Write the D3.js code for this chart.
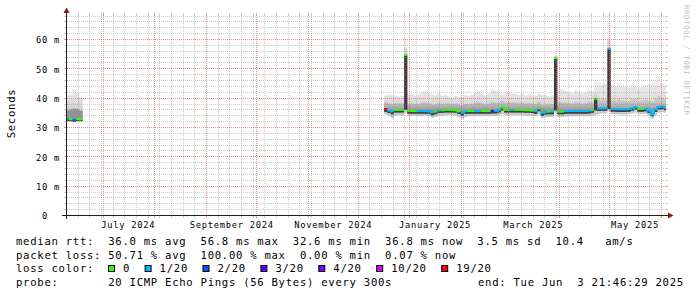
<!DOCTYPE html>
<html><head><meta charset="utf-8">
<script src="https://cdn.jsdelivr.net/npm/d3@7/dist/d3.min.js"></script>
<style>
html,body{margin:0;padding:0;background:#ffffff;overflow:hidden}
svg{display:block}
text{font-family:"DejaVu Sans Mono",monospace}
</style></head><body>
<svg id="chart" width="697" height="297" xmlns="http://www.w3.org/2000/svg"></svg>
<script>
// ---------------- data ----------------
const graphEnd = "2025-06-03T21:46:29Z";
const graphSpanDays = 360;
const yTopValue = 68.18;          // ms at the top edge of the plot
const sampleStepDays = 2;

const yTickValues = [0, 10, 20, 30, 40, 50, 60];
const xLabelMonths = ["2024-07-01", "2024-09-01", "2024-11-01", "2025-01-01", "2025-03-01", "2025-05-01"];

const lossLabels = ["0", "1/20", "2/20", "3/20", "4/20", "10/20", "19/20"];
const lossColors = ["#26ff00", "#00b8ff", "#0059ff", "#5e00ff", "#7e00ff", "#dd00ff", "#ff0000"];

// segment 1 (June 2024)
const seg1Start = "2024-06-08T21:46:29Z";
const seg1Median = [33.0, 32.8, 32.6, 32.9, 32.8];
const seg1Loss   = [1, 0, 2, 0, 0];
const seg1Min    = [32.0, 31.9, 31.8, 32.0, 32.0];
const seg1Q1     = [32.3, 32.2, 32.0, 32.3, 32.2];
const seg1Q3     = [35.8, 36.2, 36.6, 36.4, 35.8];
const seg1Max    = [41.0, 41.2, 43.0, 41.8, 40.4];

// segment 2 (Dec 2024 - Jun 2025)
const seg2Start = "2024-12-16T17:00:00Z";
const seg2Median = [
  36.3, 35.8, 35.5, 36.0, 36.0, 36.0, 54.7, 35.6, 35.6, 35.6,
  35.6, 35.6, 35.6, 35.5, 35.2, 35.4, 35.8, 35.9, 36.0, 36.0,
  36.0, 35.9, 35.5, 35.0, 35.5, 35.6, 35.6, 35.6, 35.6, 35.6,
  35.6, 35.6, 35.7, 35.7, 36.0, 36.8, 36.0, 36.0, 36.0, 36.0,
  36.0, 36.0, 35.9, 35.9, 35.8, 35.6, 36.5, 35.0, 35.3, 35.4,
  35.4, 53.6, 35.4, 35.4, 35.6, 35.6, 35.6, 35.6, 35.6, 35.6,
  35.6, 35.7, 35.9, 39.8, 36.5, 36.6, 36.6, 56.8, 36.3, 36.3,
  36.2, 36.2, 36.2, 36.3, 36.6, 37.0, 36.3, 36.3, 36.4, 35.8,
  34.5, 36.2, 37.0, 37.1, 36.8];
const seg2Loss = [
  6, 1, 1, 0, 0, 0, 0, 0, 0, 0,
  1, 1, 1, 1, 1, 0, 1, 0, 0, 0,
  0, 0, 0, 1, 1, 0, 0, 1, 1, 0,
  0, 0, 3, 1, 1, 0, 0, 0, 1, 0,
  0, 0, 0, 0, 0, 1, 0, 1, 1, 0,
  1, 0, 0, 0, 1, 1, 1, 1, 1, 1,
  1, 1, 0, 0, 1, 1, 1, 1, 1, 1,
  1, 1, 1, 1, 1, 1, 0, 0, 1, 1,
  1, 1, 1, 1, 1];
const seg2Min = [
  34.4, 34.0, 33.2, 34.0, 34.2, 34.0, 35.0, 33.8, 33.9, 34.0,
  33.8, 33.9, 34.0, 33.8, 33.3, 33.6, 34.0, 34.0, 34.1, 34.2,
  34.0, 34.0, 33.6, 33.0, 33.6, 33.8, 33.8, 33.9, 33.8, 33.8,
  33.9, 33.8, 33.9, 33.9, 34.1, 34.6, 34.2, 34.1, 34.2, 34.2,
  34.2, 34.1, 34.0, 34.0, 34.0, 33.8, 34.4, 33.2, 33.5, 33.6,
  33.6, 35.0, 33.6, 33.6, 33.8, 33.8, 33.8, 33.8, 33.8, 33.8,
  33.8, 33.8, 34.0, 34.2, 34.6, 34.8, 34.8, 35.5, 34.5, 34.5,
  34.4, 34.4, 34.4, 34.5, 34.8, 35.0, 34.5, 34.5, 34.6, 34.0,
  33.0, 34.2, 35.0, 35.2, 35.0];
const seg2Q1 = [
  35.4, 34.9, 34.5, 35.1, 35.1, 35.1, 36.0, 34.7, 34.7, 34.7,
  34.7, 34.7, 34.7, 34.6, 34.2, 34.5, 34.9, 35.0, 35.1, 35.1,
  35.1, 35.0, 34.6, 34.0, 34.6, 34.7, 34.7, 34.7, 34.7, 34.7,
  34.7, 34.7, 34.8, 34.8, 35.1, 35.8, 35.1, 35.1, 35.1, 35.1,
  35.1, 35.1, 35.0, 35.0, 34.9, 34.7, 35.5, 34.0, 34.4, 34.5,
  34.5, 35.8, 34.5, 34.5, 34.7, 34.7, 34.7, 34.7, 34.7, 34.7,
  34.7, 34.8, 35.0, 35.8, 35.6, 35.7, 35.7, 36.3, 35.4, 35.4,
  35.3, 35.3, 35.3, 35.4, 35.7, 36.1, 35.4, 35.4, 35.5, 34.9,
  33.8, 35.3, 36.1, 36.2, 35.9];
const seg2Q3 = [
  38.6, 38.2, 37.9, 38.3, 38.2, 38.3, 57.0, 38.0, 38.2, 38.0,
  38.1, 38.5, 38.6, 38.3, 37.8, 37.8, 38.3, 38.1, 38.2, 38.2,
  38.0, 38.2, 37.8, 37.6, 38.0, 37.9, 38.1, 38.4, 38.6, 38.2,
  37.9, 38.2, 38.9, 38.6, 38.6, 39.0, 38.6, 38.8, 38.5, 38.5,
  38.3, 38.6, 38.2, 38.4, 38.2, 37.9, 38.7, 37.6, 37.8, 37.8,
  38.0, 54.3, 38.6, 38.4, 38.5, 38.3, 38.2, 38.6, 38.4, 38.1,
  38.3, 38.7, 38.6, 41.5, 40.0, 39.6, 39.6, 60.0, 39.4, 39.1,
  39.6, 39.2, 39.0, 39.0, 39.6, 39.8, 39.0, 39.2, 39.5, 39.2,
  38.9, 40.0, 40.8, 40.2, 39.8];
const seg2Max = [
  41.0, 41.2, 41.0, 40.8, 40.6, 40.8, 60.0, 41.2, 41.5, 41.0,
  41.4, 42.2, 42.4, 41.8, 41.2, 41.0, 41.6, 40.8, 41.0, 40.6,
  40.2, 40.8, 40.4, 40.6, 41.0, 40.8, 41.2, 41.8, 42.2, 41.4,
  41.0, 41.6, 43.2, 42.6, 42.0, 41.4, 41.8, 42.2, 41.6, 41.6,
  41.2, 41.8, 41.0, 41.4, 41.0, 40.8, 41.6, 41.2, 41.0, 40.6,
  41.0, 55.0, 43.4, 43.0, 42.4, 42.0, 41.8, 42.6, 42.2, 41.6,
  42.0, 42.8, 42.4, 46.2, 45.4, 44.6, 44.8, 66.0, 44.6, 44.0,
  45.2, 44.4, 44.0, 43.6, 44.8, 44.2, 43.4, 43.8, 44.4, 45.0,
  45.6, 46.0, 47.3, 45.2, 44.6];

// legend texts
const legendMedian = "median rtt:  36.0 ms avg  56.8 ms max  32.6 ms min  36.8 ms now  3.5 ms sd  10.4   am/s";
const legendLoss   = "packet loss: 50.71 % avg  100.00 % max  0.00 % min  0.07 % now";
const legendLossTitle = "loss color:";
const legendProbe  = "probe:       20 ICMP Echo Pings (56 Bytes) every 300s";
const legendEnd    = "end: Tue Jun  3 21:46:29 2025";
const yAxisTitle   = "Seconds";
const watermark    = "RRDTOOL / TOBI OETIKER";

// ---------------- drawing ----------------
const svg = d3.select("#chart");
const X0 = 66, X1 = 666, Y0 = 215, Y1 = 15;
const DAY = 864e5;
const endT = new Date(graphEnd);
const startT = new Date(endT.getTime() - graphSpanDays * DAY);

const x = d3.scaleUtc().domain([startT, endT]).range([X0, X1]);
const y = d3.scaleLinear().domain([0, yTopValue]).range([Y0 + 0.5, Y1 + 0.5]);

svg.append("rect").attr("width", 697).attr("height", 297).attr("fill", "#ffffff");
const defs = svg.append("defs");
defs.append("clipPath").attr("id", "plotClip")
  .append("rect").attr("x", X0 + 1).attr("y", Y1).attr("width", X1 - X0 - 1).attr("height", Y0 - Y1);

function vGradient(id, v1, v2, stops) {
  const g = defs.append("linearGradient").attr("id", id).attr("gradientUnits", "userSpaceOnUse")
    .attr("x1", 0).attr("x2", 0).attr("y1", y(v1)).attr("y2", y(v2));
  stops.forEach(([o, c]) => g.append("stop").attr("offset", o).attr("stop-color", c));
}
vGradient("smokeOuter", 46, 34, [[0, "#eeeeee"], [0.45, "#e2e2e2"], [0.8, "#d2d2d2"], [1, "#c8c8c8"]]);
vGradient("smokeInner", 40, 35.5, [[0, "#d4d4d4"], [0.6, "#b2b2b2"], [1, "#929292"]]);

function buildSegment(start, med, loss, mn, q1, q3, mx) {
  const t0 = Date.parse(start);
  return med.map((m, i) => ({
    t: new Date(t0 + i * sampleStepDays * DAY),
    t1: new Date(t0 + (i + 1) * sampleStepDays * DAY),
    med: m, loss: loss[i], min: mn[i], q1: q1[i], q3: q3[i], max: mx[i]
  }));
}
const segments = [
  buildSegment(seg1Start, seg1Median, seg1Loss, seg1Min, seg1Q1, seg1Q3, seg1Max),
  buildSegment(seg2Start, seg2Median, seg2Loss, seg2Min, seg2Q1, seg2Q3, seg2Max)
];

const dataG = svg.append("g").attr("clip-path", "url(#plotClip)");
const bands = [["min", "max", "url(#smokeOuter)"], ["q1", "q3", "url(#smokeInner)"], ["q1", "med", "#3c3c3c"]];
segments.forEach(s => {
  const last = s[s.length - 1];
  const pts = s.concat([Object.assign({}, last, { t: last.t1 })]);
  bands.forEach(([lo, hi, c]) => {
    const area = d3.area().curve(d3.curveStepAfter)
      .x(d => x(d.t)).y0(d => y(d[lo])).y1(d => y(d[hi]));
    dataG.append("path").attr("d", area(pts)).attr("fill", c);
  });
});

// median line coloured by loss
const medG = svg.append("g").attr("clip-path", "url(#plotClip)");
segments.forEach(s => {
  s.forEach((d, i) => {
    const yy = y(d.med);
    const col = lossColors[d.loss];
    medG.append("line").attr("x1", x(d.t)).attr("x2", x(d.t1)).attr("y1", yy).attr("y2", yy)
      .attr("stroke", col).attr("stroke-width", 2);
    if (i > 0 && s[i - 1].loss === d.loss && Math.abs(y(s[i - 1].med) - yy) <= 5) {
      medG.append("line").attr("x1", x(d.t)).attr("x2", x(d.t))
        .attr("y1", y(s[i - 1].med)).attr("y2", yy)
        .attr("stroke", col).attr("stroke-width", 2).attr("stroke-linecap", "square");
    }
  });
});

// grid (semi-transparent, drawn over the graph like rrdtool)
const gridG = svg.append("g");
const minorCol = "rgba(143,143,143,0.45)", majorCol = "rgba(222,79,79,0.6)";
const px = t => Math.round(x(t)) + 0.5;
function vline(xx, col) {
  gridG.append("line").attr("x1", xx).attr("x2", xx).attr("y1", Y1).attr("y2", Y0)
    .attr("stroke", col).attr("stroke-dasharray", "1,1");
  gridG.append("line").attr("x1", xx).attr("x2", xx).attr("y1", Y0 + 1).attr("y2", Y0 + 3).attr("stroke", col);
  gridG.append("line").attr("x1", xx).attr("x2", xx).attr("y1", Y1 - 2).attr("y2", Y1).attr("stroke", col);
}
function hline(yy, col) {
  gridG.append("line").attr("x1", X0 + 1).attr("x2", X1).attr("y1", yy).attr("y2", yy)
    .attr("stroke", col).attr("stroke-dasharray", "1,1");
  gridG.append("line").attr("x1", X0 - 2).attr("x2", X0).attr("y1", yy).attr("y2", yy).attr("stroke", col);
  gridG.append("line").attr("x1", X1).attr("x2", X1 + 2).attr("y1", yy).attr("y2", yy).attr("stroke", col);
}
const months = d3.utcMonth.range(startT, endT);
const weeks = d3.utcSunday.range(startT, endT);
weeks.forEach(t => {
  if (months.some(m => Math.abs(px(m) - px(t)) < 2)) return;
  vline(px(t), minorCol);
});
months.forEach(t => vline(px(t), majorCol));
d3.range(2, yTopValue, 2).forEach(v => {
  const yy = Math.round(y(v) - 0.5) + 0.5;
  hline(yy, v % 10 === 0 ? majorCol : minorCol);
});

// axes lines and arrows
const axisCol = "#1f1f1f", arrowCol = "#801f1f";
svg.append("line").attr("x1", X0 - 4).attr("x2", X1 + 4).attr("y1", Y0 + 0.5).attr("y2", Y0 + 0.5).attr("stroke", axisCol);
svg.append("line").attr("x1", X0 + 0.5).attr("x2", X0 + 0.5).attr("y1", Y0 + 4).attr("y2", Y1 - 4).attr("stroke", axisCol);
svg.append("path").attr("d", `M${X1 + 2},${Y0 - 2.5}L${X1 + 7.5},${Y0 + 0.5}L${X1 + 2},${Y0 + 3.5}Z`).attr("fill", arrowCol);
svg.append("path").attr("d", `M${X0 - 2.5},${Y1 - 2}L${X0 + 0.5},${Y1 - 7.5}L${X0 + 3.5},${Y1 - 2}Z`).attr("fill", arrowCol);

// tick labels via d3 axes
const tickFont = 8.8, tickSpacing = 0.7;
const yAxisG = svg.append("g").attr("transform", `translate(${X0},0)`)
  .call(d3.axisLeft(y).tickValues(yTickValues).tickSize(0).tickPadding(6)
    .tickFormat(v => v === 0 ? "0" : `${v} m`));
yAxisG.select(".domain").remove();
yAxisG.selectAll("text").attr("font-size", tickFont).attr("letter-spacing", tickSpacing)
  .attr("fill", "#000").attr("font-family", "DejaVu Sans Mono")
  .attr("dx", v => v === 0 ? -12 : 0).attr("dy", "0.36em");

const xAxisG = svg.append("g").attr("transform", `translate(0,${Y0 + 0.5})`)
  .call(d3.axisBottom(x).tickValues(xLabelMonths.map(m => new Date(Date.parse(m) + 15 * DAY)))
    .tickFormat(d3.utcFormat("%B %Y")).tickSize(0).tickPadding(6));
xAxisG.select(".domain").remove();
xAxisG.selectAll("text").attr("font-size", tickFont).attr("letter-spacing", tickSpacing)
  .attr("fill", "#000").attr("font-family", "DejaVu Sans Mono");

// y title
const legFont = 10.6, legSpacing = 0.72;
svg.append("text").attr("transform", "translate(15,113.5) rotate(-90)")
  .attr("text-anchor", "middle").attr("font-size", legFont).attr("letter-spacing", legSpacing)
  .attr("fill", "#000").text(yAxisTitle);

// watermark
svg.append("text").attr("transform", "translate(684,5) rotate(90)")
  .attr("font-size", 7.6).attr("letter-spacing", 0.45).attr("fill", "#c4c4c4").text(watermark);

// legend
function legText(str, xx, yy) {
  return svg.append("text").attr("x", xx).attr("y", yy)
    .attr("xml:space", "preserve").style("white-space", "pre")
    .attr("font-size", legFont).attr("letter-spacing", legSpacing).attr("fill", "#000").text(str);
}
legText(legendMedian, 16, 245);
legText(legendLoss, 16, 258.7);
legText(legendLossTitle, 16, 272.3);
legText(legendProbe, 16, 286);
legText(legendEnd, 478, 286);

let sx = 108;
lossLabels.forEach((lab, i) => {
  svg.append("rect").attr("x", sx + 0.5).attr("y", 265.5).attr("width", 6).attr("height", 6)
    .attr("fill", lossColors[i]).attr("stroke", "#000").attr("stroke-width", 1);
  legText(lab, sx + 15, 272.3);
  sx += 29.5 + lab.length * 7.1;
});
</script>
</body></html>
